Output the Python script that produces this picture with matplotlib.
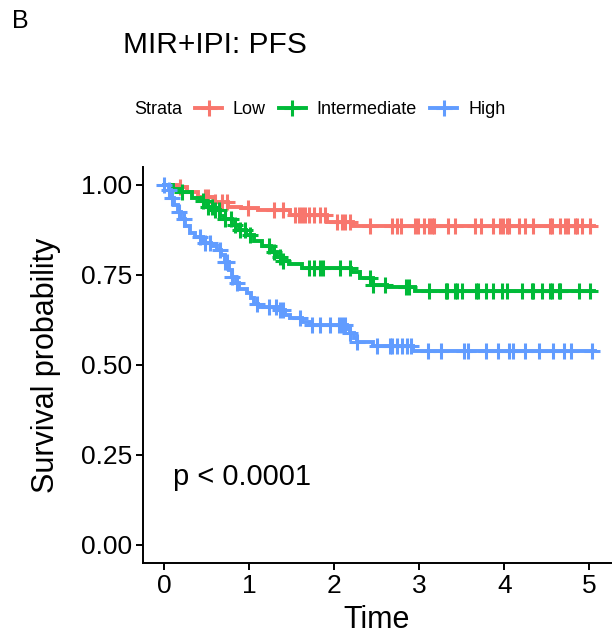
import numpy as np
import matplotlib
matplotlib.use('Agg')
import matplotlib.pyplot as plt
from matplotlib.lines import Line2D

plt.rcParams['font.family'] = ['Liberation Sans', 'DejaVu Sans']

# 数据：生存曲线（阶梯）和删失时间
strata = ['Low', 'Intermediate', 'High']
colors = ['#F8766D', '#00BA38', '#619CFF']

low_time = [0, 0.15, 0.27, 0.40, 0.58, 0.75, 0.90, 1.10, 1.48, 1.92, 2.22]
low_surv = [1.0, 0.994, 0.98, 0.967, 0.953, 0.939, 0.936, 0.93, 0.917, 0.898, 0.886]
low_cens = [0.19, 0.48, 0.52, 0.60, 0.68, 0.74, 0.99, 1.29, 1.40, 1.54, 1.58, 1.62,
            1.66, 1.70, 1.76, 1.83, 1.89, 2.03, 2.09, 2.13, 2.19, 2.42, 2.68, 2.74,
            2.79, 2.95, 2.99, 3.05, 3.11, 3.15, 3.17, 3.34, 3.42, 3.66, 3.73, 3.87,
            3.95, 3.99, 4.03, 4.05, 4.17, 4.24, 4.34, 4.54, 4.56, 4.66, 4.71, 4.75,
            4.83, 4.85, 4.91, 5.01]

mid_time = [0, 0.10, 0.20, 0.33, 0.42, 0.50, 0.58, 0.65, 0.72, 0.80, 0.88, 0.96,
            1.05, 1.15, 1.25, 1.33, 1.40, 1.47, 1.62, 2.20, 2.30, 2.45, 2.62, 2.95]
mid_surv = [1.0, 0.99, 0.98, 0.965, 0.955, 0.94, 0.93, 0.915, 0.905, 0.89, 0.875, 0.86,
            0.845, 0.83, 0.815, 0.80, 0.79, 0.78, 0.770, 0.757, 0.742, 0.722, 0.717, 0.706]
mid_cens = [0.21, 0.46, 0.52, 0.56, 0.60, 0.64, 0.72, 0.78, 0.83, 0.89, 0.95, 1.01,
            1.23, 1.29, 1.36, 1.40, 1.70, 1.76, 1.83, 1.87, 2.07, 2.19, 2.42, 2.46,
            2.60, 2.84, 2.88, 3.11, 3.31, 3.33, 3.42, 3.44, 3.50, 3.67, 3.69, 3.79,
            3.87, 3.97, 4.03, 4.21, 4.32, 4.34, 4.44, 4.54, 4.56, 4.64, 4.66, 4.88, 5.01]

high_time = [0, 0.05, 0.08, 0.12, 0.16, 0.20, 0.24, 0.30, 0.36, 0.45, 0.55, 0.62,
             0.67, 0.72, 0.76, 0.80, 0.84, 0.88, 0.97, 1.02, 1.06, 1.10, 1.35, 1.42,
             1.48, 1.62, 1.72, 2.15, 2.19, 2.23, 2.27, 2.45, 2.93]
high_surv = [1.0, 0.985, 0.965, 0.945, 0.925, 0.905, 0.885, 0.868, 0.855, 0.84, 0.83, 0.82,
             0.805, 0.785, 0.765, 0.745, 0.728, 0.71, 0.70, 0.685, 0.67, 0.661, 0.652, 0.64,
             0.63, 0.62, 0.611, 0.60, 0.589, 0.575, 0.565, 0.553, 0.539]
high_cens = [0.00, 0.05, 0.09, 0.17, 0.23, 0.42, 0.48, 0.54, 0.66, 0.72, 0.74, 0.80,
             0.85, 1.09, 1.23, 1.32, 1.36, 1.40, 1.60, 1.74, 1.83, 1.95, 2.05, 2.09,
             2.13, 2.19, 2.27, 2.50, 2.66, 2.68, 2.74, 2.80, 2.86, 2.90, 3.10, 3.26,
             3.53, 3.57, 3.79, 3.92, 4.06, 4.10, 4.24, 4.41, 4.57, 4.70, 4.78, 5.03]

curves = [(low_time, low_surv, low_cens),
          (mid_time, mid_surv, mid_cens),
          (high_time, high_surv, high_cens)]

fig = plt.figure(figsize=(6.13, 6.34), dpi=100)
ax = fig.add_axes([143 / 613, 71 / 634, 467.6 / 613, 396 / 634])

handles = []
for (t, s, c), col, name in zip(curves, colors, strata):
    t = np.array(t)
    s = np.array(s)
    c = np.array(c)
    t_end = max(c.max(), t.max()) + 0.04
    tt = np.append(t, t_end)
    ss = np.append(s, s[-1])
    ax.step(tt, ss, where='post', color=col, lw=2.8, solid_joinstyle='miter')
    # 删失点的位置
    idx = np.searchsorted(t, c, side='right') - 1
    ax.plot(c, s[idx], ls='none', marker='+', ms=11, mew=2.2, color=col)
    handles.append(Line2D([], [], color=col, lw=2.8, marker='+', ms=11, mew=2.2))

ax.set_xlim(-0.25, 5.25)
ax.set_ylim(-0.05, 1.05)
ax.set_xticks([0, 1, 2, 3, 4, 5])
ax.set_yticks([0, 0.25, 0.5, 0.75, 1.0])
ax.set_yticklabels(['0.00', '0.25', '0.50', '0.75', '1.00'])
for side in ['top', 'right']:
    ax.spines[side].set_visible(False)
for side in ['left', 'bottom']:
    ax.spines[side].set_linewidth(1.4)
ax.tick_params(axis='both', labelsize=19, length=5, width=1.4, color='black',
               labelcolor='black', pad=3)
ax.set_xlabel('Time', fontsize=22, labelpad=5)
ax.set_ylabel('Survival probability', fontsize=22, labelpad=14)

ax.text(0.1, 0.167, 'p < 0.0001', fontsize=21, va='baseline', ha='left')

fig.text(123 / 613, 1 - 45 / 634, 'MIR+IPI: PFS', fontsize=21.5, va='center', ha='left')
fig.text(12 / 613, 1 - 21 / 634, 'B', fontsize=18, va='center', ha='left')

fig.text(134 / 613, 1 - 110 / 634, 'Strata', fontsize=13, va='center', ha='left')
fig.legend(handles, strata, loc='center left', bbox_to_anchor=(195 / 613, 1 - 110 / 634),
           ncol=3, frameon=False, fontsize=13, handlelength=1.5, handletextpad=0.6,
           columnspacing=0.72, borderpad=0, borderaxespad=0)

fig.savefig('out.png', dpi=100)
